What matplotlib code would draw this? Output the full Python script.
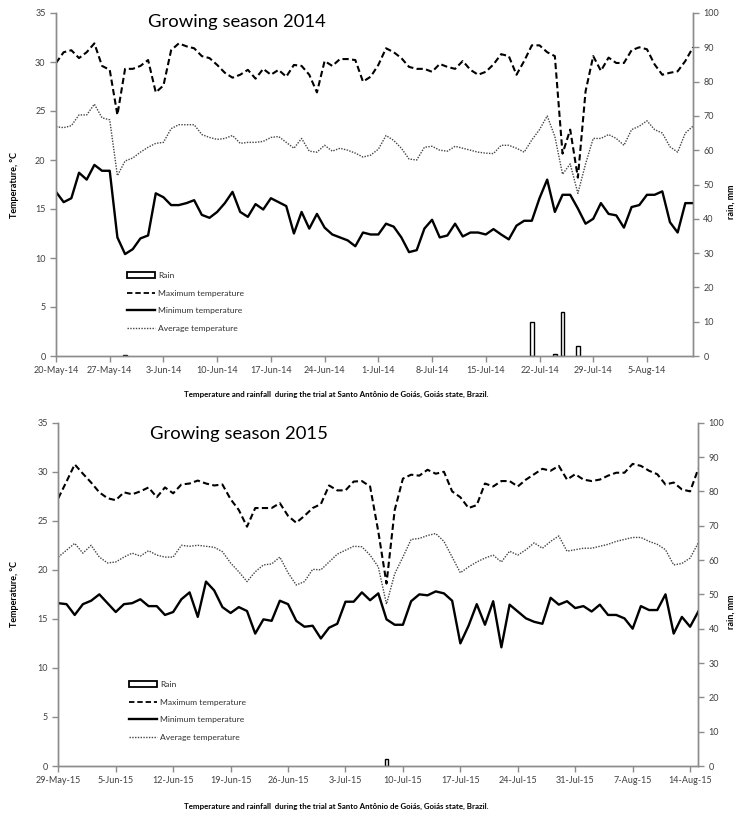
import matplotlib
matplotlib.use("Agg")
import matplotlib.pyplot as plt
import matplotlib.dates as mdates
from matplotlib.patches import Patch
from matplotlib.lines import Line2D
import pandas as pd

plt.rcParams['font.family'] = ['Lato', 'DejaVu Sans']

# ---- Growing season 2014 (daily, 20-May-14 .. 11-Aug-14) ----
start_2014 = "2014-05-20"
tmax_2014 = [29.9, 31.0, 31.2, 30.4, 31.0, 31.9, 29.6, 29.2, 24.6, 29.3, 29.3, 29.6, 30.2, 26.9, 27.6, 31.2,
             31.9, 31.6, 31.4, 30.6, 30.4, 29.7, 28.9, 28.4, 28.7, 29.2,
             28.3, 29.3, 28.7, 29.2, 28.5, 29.7, 29.6, 28.7, 26.9, 30.1, 29.6, 30.3, 30.3, 30.2, 28.0, 28.5,
             29.7, 31.4, 31.0, 30.4, 29.5, 29.3, 29.3, 29.0, 29.8, 29.5, 29.3, 30.1, 29.2, 28.7, 29.0,
             29.75, 30.8, 30.6, 28.7, 30.1, 31.7, 31.7, 31.0, 30.6, 20.65, 23.1, 18.2, 27.0, 30.6, 29.1,
             30.45, 29.9, 29.9, 31.2, 31.5, 31.3, 29.75, 28.7, 28.9, 29.05, 30.1, 31.5]
tavg_2014 = [23.4, 23.3, 23.5, 24.6, 24.6, 25.7, 24.3, 24.1, 18.4, 19.9, 20.2, 20.8, 21.3, 21.7, 21.8, 23.2,
             23.6, 23.6, 23.6, 22.6, 22.3, 22.1, 22.2, 22.5, 21.7, 21.8,
             21.8, 21.9, 22.3, 22.4, 21.8, 21.2, 22.2, 20.9, 20.8, 21.5, 20.9, 21.2, 21.0, 20.7, 20.3, 20.5,
             21.1, 22.5, 22.0, 21.2, 20.1, 20.0, 21.3, 21.4, 21.0, 20.9, 21.4, 21.2, 21.0, 20.8, 20.7,
             20.65, 21.5, 21.5, 21.2, 20.8, 22.05, 23.1, 24.5, 22.4, 18.55, 19.6, 16.6, 19.6, 22.2, 22.2,
             22.6, 22.2, 21.5, 23.1, 23.45, 24.0, 23.1, 22.75, 21.35, 20.8, 22.75, 23.45]
tmin_2014 = [16.75, 15.7, 16.1, 18.7, 18.0, 19.5, 18.9, 18.9, 12.1, 10.4, 10.9, 12.0, 12.3, 16.6, 16.2, 15.4,
             15.4, 15.6, 15.9, 14.4, 14.1, 14.7, 15.6, 16.75, 14.7, 14.2,
             15.5, 14.95, 16.1, 15.7, 15.3, 12.5, 14.7, 13.0, 14.5, 13.1, 12.4, 12.1, 11.8, 11.2, 12.6, 12.4,
             12.4, 13.5, 13.2, 12.1, 10.6, 10.8, 13.0, 13.9, 12.1, 12.3, 13.5, 12.2, 12.6, 12.6, 12.4,
             12.95, 12.4, 11.9, 13.3, 13.8, 13.8, 16.1, 18.0, 14.7, 16.45, 16.45, 15.05, 13.5, 14.0, 15.6,
             14.5, 14.35, 13.1, 15.2, 15.4, 16.45, 16.45, 16.8, 13.65, 12.6, 15.6, 15.6]
rain_dates_2014 = ["2014-05-29", "2014-07-21", "2014-07-24", "2014-07-25", "2014-07-27"]
rain_mm_2014 = [0.3, 10.0, 0.5, 12.7, 3.0]

# ---- Growing season 2015 (daily, 29-May-15 .. 15-Aug-15) ----
start_2015 = "2015-05-29"
tmax_2015 = [27.3, 29.0, 30.75, 29.8, 28.9, 27.9, 27.3, 27.1, 27.9, 27.7, 28.0, 28.4, 27.4, 28.4, 27.8, 28.7,
             28.8, 29.1, 28.8, 28.6, 28.7, 27.2, 26.1, 24.4,
             26.3, 26.3, 26.3, 26.8, 25.5, 24.8, 25.5, 26.3, 26.7, 28.6, 28.1, 28.1, 29.0, 29.05, 28.5, 23.9,
             18.6, 26.1, 29.3, 29.7, 29.6, 30.2, 29.8, 30.0, 28.0, 27.4, 26.3, 26.6, 28.8,
             28.5, 29.05, 29.05, 28.5, 29.2, 29.75, 30.3, 30.1, 30.6, 29.2, 29.75, 29.2, 29.05, 29.2, 29.6,
             29.9, 29.9, 30.8, 30.6, 30.1, 29.75, 28.7, 28.9, 28.2, 28.0, 30.3]
tavg_2015 = [21.3, 22.0, 22.7, 21.7, 22.5, 21.3, 20.7, 20.8, 21.3, 21.7, 21.4, 21.95, 21.5, 21.3, 21.3, 22.5,
             22.4, 22.5, 22.4, 22.3, 21.85, 20.7, 19.8, 18.8,
             19.8, 20.5, 20.6, 21.3, 19.7, 18.45, 18.8, 20.05, 20.0, 20.8, 21.6, 22.0, 22.4, 22.35, 21.5, 20.3,
             16.5, 19.6, 21.3, 23.1, 23.2, 23.5, 23.7, 22.9, 21.3, 19.7, 20.3, 20.8, 21.2,
             21.5, 20.8, 21.9, 21.5, 22.05, 22.75, 22.2, 22.9, 23.45, 21.9, 22.05, 22.2, 22.2, 22.4, 22.6,
             22.9, 23.1, 23.3, 23.3, 22.9, 22.6, 22.05, 20.5, 20.65, 21.2, 22.75]
tmin_2015 = [16.6, 16.5, 15.4, 16.5, 16.85, 17.5, 16.6, 15.7, 16.5, 16.6, 17.0, 16.3, 16.3, 15.4, 15.7, 17.0,
             17.7, 15.2, 18.8, 17.9, 16.2, 15.6, 16.2, 15.8,
             13.5, 14.95, 14.8, 16.85, 16.5, 14.8, 14.2, 14.3, 13.0, 14.1, 14.5, 16.75, 16.75, 17.7, 16.9, 17.6,
             14.95, 14.4, 14.4, 16.8, 17.5, 17.4, 17.8, 17.6, 16.85, 12.5, 14.3, 16.5, 14.4,
             16.8, 12.1, 16.45, 15.75, 15.05, 14.7, 14.5, 17.15, 16.45, 16.8, 16.1, 16.3, 15.75, 16.45, 15.4,
             15.4, 15.05, 14.0, 16.3, 15.9, 15.9, 17.5, 13.5, 15.2, 14.2, 15.75]
rain_dates_2015 = ["2015-07-08"]
rain_mm_2015 = [2.0]

legend_labels = ["Rain", "Maximum temperature", "Minimum temperature", "Average temperature"]
caption = "Temperature and rainfall  during the trial at Santo Antônio de Goiás, Goiás state, Brazil."

W, H = 737, 816
fig = plt.figure(figsize=(W / 100, H / 100), dpi=100)
AXIS_GREY = "#8c8c8c"
TICK_TXT = "#404040"


def fx(px):
    return px / W


def fy(py):
    return 1 - py / H


def panel(box, start, tmax, tavg, tmin, rain_dates, rain_mm, title, title_xy, legend_xy, caption_y):
    left, top, right, bottom = box
    ax = fig.add_axes([fx(left), fy(bottom), fx(right - left), (bottom - top) / H])
    days = pd.date_range(start, periods=len(tmax), freq="D")
    x = mdates.date2num(days)

    ax2 = ax.twinx()
    ax.set_zorder(ax2.get_zorder() + 1)
    ax.patch.set_visible(False)

    rx = mdates.date2num(pd.to_datetime(rain_dates))
    ax2.bar(rx, rain_mm, width=0.45, color="white", edgecolor="black", linewidth=1.0, zorder=2)
    ax2.set_ylim(0, 100)
    ax2.set_yticks(range(0, 101, 10))

    ax.plot(x, tmax, color="black", lw=1.5, linestyle=(0, (3, 1.6)))
    ax.plot(x, tmin, color="black", lw=1.7, linestyle="-")
    ax.plot(x, tavg, color="#444444", lw=1.0, linestyle=(0, (1, 1)))

    ax.set_xlim(x[0], x[-1])
    ax.set_ylim(0, 35)
    ax.set_yticks(range(0, 36, 5))
    ticks = pd.date_range(start, days[-1], freq="7D")
    ax.set_xticks(mdates.date2num(ticks))
    ax.set_xticklabels([f"{d.day}-{d.strftime('%b-%y')}" for d in ticks])

    for a in (ax, ax2):
        a.spines["top"].set_visible(False)
        for s in ("left", "right", "bottom"):
            a.spines[s].set_color(AXIS_GREY)
            a.spines[s].set_linewidth(1.0)
        a.tick_params(colors=AXIS_GREY, labelcolor=TICK_TXT, labelsize=6.5, length=4, width=1)
    ax.tick_params(axis="x", pad=3)

    span = right - left
    ax.set_ylabel("Temperature, °C", fontsize=6.5, fontweight="bold")
    ax.yaxis.set_label_coords((19 - left) / span, 0.5)
    ax2.set_ylabel("rain, mm", fontsize=6.5, fontweight="bold", rotation=90)
    ax2.yaxis.set_label_coords((727 - left) / span, 0.45)

    fig.text(fx(title_xy[0]), fy(title_xy[1]), title, fontsize=13.3, va="center", ha="left")
    fig.text(fx(336), fy(caption_y), caption, fontsize=5.7, fontweight="bold", ha="center", va="center")

    handles = [Patch(facecolor="white", edgecolor="black", linewidth=1.3),
               Line2D([], [], color="black", lw=1.3, linestyle=(0, (3, 1.6))),
               Line2D([], [], color="black", lw=1.7),
               Line2D([], [], color="#444444", lw=1.0, linestyle=(0, (1, 1)))]
    leg = fig.legend(handles, legend_labels, loc="upper left",
                     bbox_to_anchor=(fx(legend_xy[0]), fy(legend_xy[1])),
                     frameon=False, fontsize=6.1, handlelength=3.3, handleheight=0.75,
                     handletextpad=0.4, labelspacing=1.25, borderpad=0, borderaxespad=0)
    for t in leg.get_texts():
        t.set_color("#303030")
    return ax


panel((56, 13, 693, 356), start_2014, tmax_2014, tavg_2014, tmin_2014,
      rain_dates_2014, rain_mm_2014, "Growing season 2014", (148, 22), (127, 272), 394)
panel((58.3, 422.7, 698.3, 766), start_2015, tmax_2015, tavg_2015, tmin_2015,
      rain_dates_2015, rain_mm_2015, "Growing season 2015", (150, 434), (129, 681), 806)

fig.savefig("out.png", dpi=100)
